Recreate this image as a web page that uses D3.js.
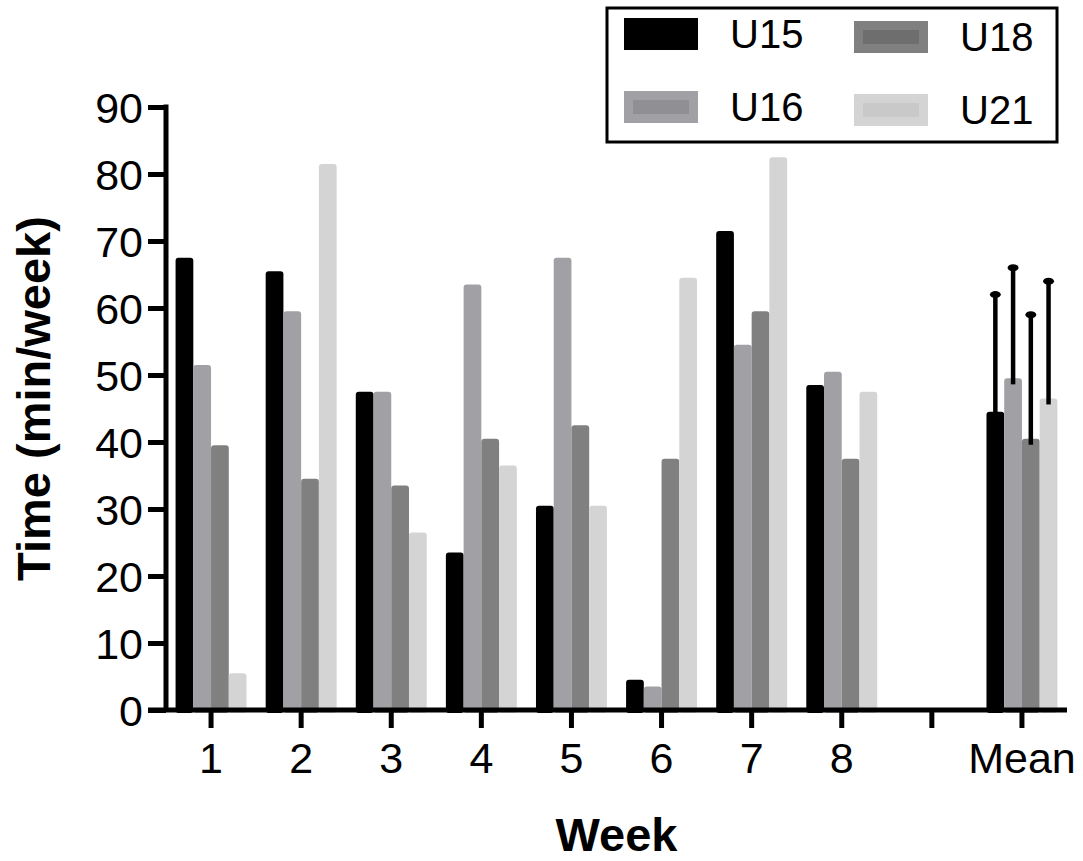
<!DOCTYPE html>
<html>
  <head>
    <meta charset="UTF-8">
    <style>
      body {
        margin: 0;
        background: white;
        font-family: Helvetica, Arial, 'Liberation Sans', sans-serif;
      }

      .axis text {
        font-size: 43px;
        fill: black;
      }

      .axis .domain,
      .axis .tick line {
        stroke: black;
        stroke-width: 5px;
      }

      .title {
        font-size: 47px;
        font-weight: bold;
      }

      .legend text {
        font-size: 40px;
      }
    </style>
    <script src="https://d3js.org/d3.v7.min.js"></script>
  </head>

  <body>
    <svg id="chart"></svg>

    <script type="text/javascript">
      // categories on the x axis ('gap' is the empty slot before Mean)
      let weeks = ['1', '2', '3', '4', '5', '6', '7', '8', 'gap', 'Mean']
      let groups = ['U15', 'U16', 'U18', 'U21']

      // values, minutes per week
      let u15 = [67.5, 65.5, 47.5, 23.5, 30.5, 4.5, 71.5, 48.5, null, 44.5]
      let u16 = [51.5, 59.5, 47.5, 63.5, 67.5, 3.5, 54.5, 50.5, null, 49.5]
      let u18 = [39.5, 34.5, 33.5, 40.5, 42.5, 37.5, 59.5, 37.5, null, 40.5]
      let u21 = [5.5, 81.5, 26.5, 36.5, 30.5, 64.5, 82.5, 47.5, null, 46.5]

      // upper end of the error bars on the Mean group
      let meanErrorTop = [62, 66, 59, 64]

      let yTicks = [0, 10, 20, 30, 40, 50, 60, 70, 80, 90]

      let colors = {
        U15: '#000000',
        U16: '#a1a0a5',
        U18: '#808080',
        U21: '#d4d4d4',
      }
      let innerColors = {
        U15: '#000000',
        U16: '#909094',
        U18: '#6e6e6e',
        U21: '#c9c9c9',
      }

      function getChartConfig() {
        let width = 1083
        let height = 861
        let margin = { top: 107, bottom: 151, left: 166, right: 16 }

        let svg = d3.select('#chart')
          .attr('width', width)
          .attr('height', height)

        return { width, height, margin, svg }
      }

      function getScales(config) {
        let xScale = d3.scaleBand()
          .domain(weeks)
          .range([config.margin.left, config.width - config.margin.right])
          .padding(0)

        let groupScale = d3.scaleBand()
          .domain(groups)
          .range([0, xScale.bandwidth()])
          .paddingInner(0)
          .paddingOuter(0.54)

        let yScale = d3.scaleLinear()
          .domain([0, 90])
          .range([config.height - config.margin.bottom, config.margin.top])

        return { xScale, groupScale, yScale }
      }

      function getSeries() {
        return { U15: u15, U16: u16, U18: u18, U21: u21 }
      }

      function buildRows() {
        let series = getSeries()
        let rows = []
        weeks.forEach((week, i) => {
          groups.forEach(group => {
            let value = series[group][i]
            if (value != null) rows.push({ week, group, value })
          })
        })
        return rows
      }

      function drawBars(rows, scales, config) {
        let { xScale, groupScale, yScale } = scales
        let r = 3

        config.svg.append('g')
          .attr('class', 'bars')
          .selectAll('rect')
          .data(rows)
          .enter()
          .append('rect')
          .attr('x', d => xScale(d.week) + groupScale(d.group))
          .attr('y', d => yScale(d.value))
          .attr('width', groupScale.bandwidth())
          .attr('height', d => yScale(0) - yScale(d.value) + r)
          .attr('rx', r)
          .attr('fill', d => colors[d.group])
      }

      function drawErrorBars(scales, config) {
        let { xScale, groupScale, yScale } = scales
        let series = getSeries()
        let data = groups.map((group, i) => ({
          group,
          value: series[group][weeks.length - 1],
          top: meanErrorTop[i],
        }))

        let g = config.svg.append('g').attr('class', 'error-bars')
        let cx = d => xScale('Mean') + groupScale(d.group) + groupScale.bandwidth() / 2

        g.selectAll('line')
          .data(data)
          .enter()
          .append('line')
          .attr('x1', cx)
          .attr('x2', cx)
          .attr('y1', d => yScale(d.value) + 6)
          .attr('y2', d => yScale(d.top))
          .attr('stroke', 'black')
          .attr('stroke-width', 4.5)

        g.selectAll('ellipse')
          .data(data)
          .enter()
          .append('ellipse')
          .attr('cx', cx)
          .attr('cy', d => yScale(d.top))
          .attr('rx', 5.5)
          .attr('ry', 3.5)
          .attr('fill', 'black')
      }

      function drawAxes(scales, config) {
        let { xScale, yScale } = scales
        let baseY = yScale(0)

        let axisX = d3.axisBottom(xScale)
          .tickSize(18)
          .tickSizeOuter(0)
          .tickFormat(d => d === 'gap' ? '' : d)

        let gx = config.svg.append('g')
          .attr('class', 'axis x-axis')
          .attr('transform', `translate(0, ${baseY})`)
          .call(axisX)

        gx.select('.domain')
          .attr('d', `M${config.margin.left - 18},0H${config.width - config.margin.right}`)
        gx.selectAll('text')
          .attr('y', 63)
          .attr('dy', 0)

        let axisY = d3.axisLeft(yScale)
          .tickValues(yTicks)
          .tickSize(18)
          .tickSizeOuter(0)
          .tickPadding(5)

        let gy = config.svg.append('g')
          .attr('class', 'axis y-axis')
          .attr('transform', `translate(${config.margin.left}, 0)`)
          .call(axisY)

        gy.select('.domain')
          .attr('d', `M0,${yScale(90) - 2.5}V${baseY}`)
        gy.selectAll('text')
          .attr('dy', '0.36em')

        config.svg.append('text')
          .attr('class', 'title')
          .attr('text-anchor', 'middle')
          .attr('x', (config.margin.left + config.width - config.margin.right) / 2)
          .attr('y', 851)
          .text('Week')

        config.svg.append('text')
          .attr('class', 'title')
          .attr('text-anchor', 'middle')
          .attr('transform', `translate(50, ${(yScale(0) + yScale(90)) / 2 - 10}) rotate(-90)`)
          .text('Time (min/week)')
      }

      function drawLegend(config) {
        let legend = config.svg.append('g')
          .attr('class', 'legend')

        legend.append('rect')
          .attr('x', 607)
          .attr('y', 8)
          .attr('width', 450)
          .attr('height', 134)
          .attr('fill', 'white')
          .attr('stroke', 'black')
          .attr('stroke-width', 3)

        // legend order: U15, U18 on the first row, U16, U21 on the second
        let order = ['U15', 'U18', 'U16', 'U21']
        let items = legend.selectAll('.item')
          .data(order)
          .enter()
          .append('g')
          .attr('class', 'item')
          .attr('transform', (d, i) => {
            let col = i % 2
            let row = Math.floor(i / 2)
            return `translate(${624 + col * 230}, ${18 + row * 73 + col * 3})`
          })

        items.append('rect')
          .attr('width', 74)
          .attr('height', 32)
          .attr('fill', d => colors[d])

        items.filter(d => d !== 'U15')
          .append('rect')
          .attr('x', 9)
          .attr('y', 9)
          .attr('width', 56)
          .attr('height', 14)
          .attr('fill', d => innerColors[d])

        items.append('text')
          .attr('x', 106)
          .attr('y', 30)
          .text(d => d)
      }

      function showChart() {
        let config = getChartConfig()
        let scales = getScales(config)
        let rows = buildRows()

        drawBars(rows, scales, config)
        drawErrorBars(scales, config)
        drawAxes(scales, config)
        drawLegend(config)
      }

      showChart()
    </script>
  </body>
</html>
